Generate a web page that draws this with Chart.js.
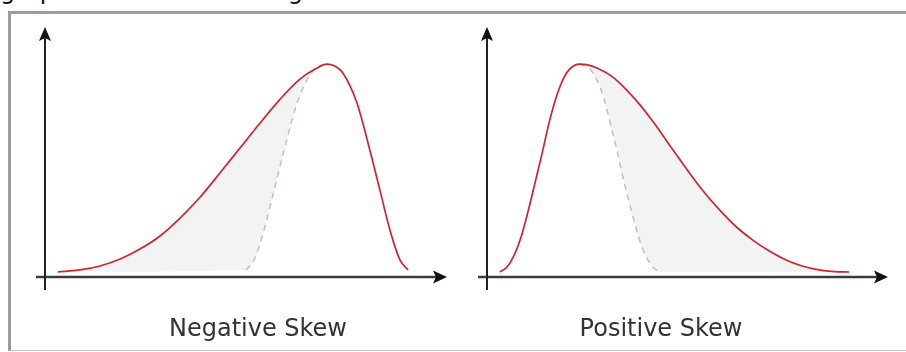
<!DOCTYPE html>
<html>
<head>
<meta charset="utf-8">
<script src="https://cdn.jsdelivr.net/npm/chart.js@4"></script>
<style>
	body { margin: 0; background: #fff; width: 906px; height: 352px; overflow: hidden; position: relative; font-family: "DejaVu Sans", sans-serif; }
	#caption { position: absolute; left: 0; top: -21px; font-size: 24px; line-height: 24px; color: #111; white-space: nowrap; }
	#frame { position: absolute; left: 8px; top: 11px; width: 1000px; height: 336px; border-top: 3px solid #9c9c9c; border-left: 3px solid #9c9c9c; border-bottom: 1px solid #c4c4c4; }
	.box { position: absolute; top: 0; height: 352px; }
	.title { position: absolute; top: 316px; width: 260px; text-align: center; font-size: 24px; line-height: 24px; color: #333; }
</style>
</head>
<body>
<div id="caption">graph illustrates showing skewness</div>
<div id="frame"></div>
<div class="box" style="left:0;width:460px;"><canvas id="chartNeg"></canvas></div>
<div class="box" style="left:434px;width:454px;"><canvas id="chartPos"></canvas></div>
<div class="title" id="titleNeg" style="left:128px;"></div>
<div class="title" id="titlePos" style="left:531px;"></div>
<script>
// values (x: 0..10 along the axis, y: density, 0..1.2)
const tailLevel = 0.025;

const negSkewX = [0.32, 0.87, 1.37, 1.87, 2.36, 2.86, 3.36, 3.86, 4.35, 4.85, 5.35, 5.85, 6.34, 6.72, 7.01, 7.21, 7.41, 7.76, 8.08, 8.33, 8.58, 8.83, 9.03];
const negSkewY = [0.024, 0.034, 0.053, 0.086, 0.134, 0.197, 0.283, 0.384, 0.499, 0.619, 0.739, 0.854, 0.950, 0.998, 1.022, 1.013, 0.979, 0.835, 0.610, 0.418, 0.226, 0.082, 0.034];
const negPeak = 14;
const negMirrorX = [5.0, 5.2, 5.45, 5.7, 5.95, 6.27, 6.62, 6.82, 7.01];
const negMirrorY = [0.034, 0.082, 0.226, 0.418, 0.610, 0.835, 0.979, 1.013, 1.022];

const posSkewX = [0.32, 0.50, 0.67, 0.85, 1.02, 1.19, 1.37, 1.54, 1.72, 1.89, 2.06, 2.31, 2.51, 2.74, 3.06, 3.31, 3.71, 4.13, 4.55, 4.98, 5.37, 5.80, 6.22, 6.62, 7.04, 7.46, 7.86, 8.28, 8.66, 9.03];
const posSkewY = [0.024, 0.048, 0.101, 0.192, 0.312, 0.446, 0.590, 0.734, 0.859, 0.946, 0.998, 1.022, 1.018, 1.003, 0.970, 0.931, 0.850, 0.749, 0.634, 0.518, 0.418, 0.322, 0.240, 0.178, 0.125, 0.082, 0.053, 0.034, 0.026, 0.024];
const posPeak = 11;
const posMirrorX = [2.31, 2.56, 2.74, 2.91, 3.08, 3.26, 3.43, 3.61, 3.78, 3.96, 4.13, 4.30];
const posMirrorY = [1.022, 0.998, 0.946, 0.859, 0.734, 0.590, 0.446, 0.312, 0.192, 0.101, 0.048, 0.024];

const titles = ['Negative Skew', 'Positive Skew'];

const pts = (xs, ys) => xs.map((x, i) => ({ x, y: ys[i] }));

const arrowAxes = {
	id: 'arrowAxes',
	afterDatasetsDraw(chart) {
		const { ctx } = chart;
		const xs = chart.scales.x, ys = chart.scales.y;
		const x0 = xs.getPixelForValue(0), y0 = ys.getPixelForValue(0);
		const xEnd = xs.getPixelForValue(xs.max), yEnd = ys.getPixelForValue(ys.max);
		ctx.save();
		// x axis
		ctx.strokeStyle = '#3c3c3c';
		ctx.lineWidth = 2.6;
		ctx.beginPath();
		ctx.moveTo(x0 - 9, y0);
		ctx.lineTo(xEnd - 10, y0);
		ctx.stroke();
		ctx.fillStyle = '#111';
		ctx.beginPath();
		ctx.moveTo(xEnd, y0);
		ctx.lineTo(xEnd - 14, y0 - 6.5);
		ctx.lineTo(xEnd - 11, y0);
		ctx.lineTo(xEnd - 14, y0 + 6.5);
		ctx.closePath();
		ctx.fill();
		// y axis
		ctx.strokeStyle = '#222';
		ctx.lineWidth = 2;
		ctx.beginPath();
		ctx.moveTo(x0, y0 + 13);
		ctx.lineTo(x0, yEnd + 10);
		ctx.stroke();
		ctx.beginPath();
		ctx.moveTo(x0, yEnd);
		ctx.lineTo(x0 - 6, yEnd + 14);
		ctx.lineTo(x0, yEnd + 11);
		ctx.lineTo(x0 + 6, yEnd + 14);
		ctx.closePath();
		ctx.fill();
		ctx.restore();
	}
};

function makeChart(id, curveX, curveY, halfX, halfY, edgeX, edgeY, mirrorX, mirrorY, pad) {
	const line = { pointRadius: 0, cubicInterpolationMode: 'monotone' };
	new Chart(document.getElementById(id), {
		type: 'line',
		data: {
			datasets: [
				{ ...line, data: pts(curveX, curveY), borderColor: '#d52230', borderWidth: 1.7, fill: false },
				{ ...line, data: pts(mirrorX, mirrorY), borderColor: '#c0c0c0', borderWidth: 1.5, borderDash: [6, 5], fill: false },
				{ ...line, data: pts(halfX, halfY), borderWidth: 0, borderColor: 'rgba(0,0,0,0)', fill: 3, backgroundColor: '#f2f4f4' },
				{ ...line, data: pts(edgeX, edgeY), borderWidth: 0, borderColor: 'rgba(0,0,0,0)', fill: false }
			]
		},
		options: {
			responsive: true,
			maintainAspectRatio: false,
			animation: false,
			layout: { padding: pad },
			scales: {
				x: { type: 'linear', min: 0, max: 10, display: false },
				y: { min: 0, max: 1.2, display: false }
			},
			plugins: {
				legend: { display: false },
				tooltip: { enabled: false }
			}
		},
		plugins: [arrowAxes]
	});
}

document.getElementById('titleNeg').textContent = titles[0];
document.getElementById('titlePos').textContent = titles[1];

// negative skew: shade between the long left side and the mirrored steep side
makeChart('chartNeg', negSkewX, negSkewY,
	negSkewX.slice(0, negPeak + 1), negSkewY.slice(0, negPeak + 1),
	[negSkewX[0]].concat(negMirrorX), [tailLevel].concat(negMirrorY),
	negMirrorX, negMirrorY,
	{ left: 45, right: 13, top: 27, bottom: 75 });

makeChart('chartPos', posSkewX, posSkewY,
	posSkewX.slice(posPeak), posSkewY.slice(posPeak),
	posMirrorX.concat([posSkewX[posSkewX.length - 1]]), posMirrorY.concat([tailLevel]),
	posMirrorX, posMirrorY,
	{ left: 53, right: 0, top: 27, bottom: 75 });
</script>
</body>
</html>
